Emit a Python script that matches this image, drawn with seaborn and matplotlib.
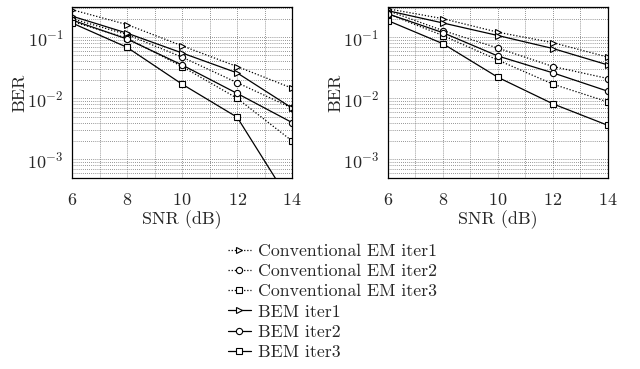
import numpy as np
import pandas as pd
import matplotlib
matplotlib.use("Agg")
import matplotlib.pyplot as plt
import seaborn as sns
from matplotlib.ticker import LogLocator, NullFormatter, MultipleLocator

snr = [6, 8, 10, 12, 14]
labels = ["Conventional EM iter1", "Conventional EM iter2", "Conventional EM iter3",
          "BEM iter1", "BEM iter2", "BEM iter3"]

# left panel
left_conv1 = [0.28, 0.16, 0.072, 0.033, 0.0146]
left_conv2 = [0.20, 0.11, 0.047, 0.018, 0.0069]
left_conv3 = [0.18, 0.096, 0.033, 0.010, 0.0020]
left_bem1 = [0.22, 0.116, 0.055, 0.026, 0.0069]
left_bem2 = [0.19, 0.093, 0.035, 0.012, 0.0040]
left_bem3 = [0.17, 0.068, 0.017, 0.0049, 0.00018]

# right panel
right_conv1 = [0.29, 0.20, 0.12, 0.081, 0.047]
right_conv2 = [0.27, 0.128, 0.066, 0.033, 0.021]
right_conv3 = [0.24, 0.106, 0.042, 0.017, 0.0087]
right_bem1 = [0.27, 0.17, 0.106, 0.065, 0.035]
right_bem2 = [0.24, 0.118, 0.049, 0.026, 0.013]
right_bem3 = [0.186, 0.078, 0.022, 0.0081, 0.0036]


def long_df(series):
    rows = []
    for lab, vals in zip(labels, series):
        for s, v in zip(snr, vals):
            rows.append({"snr": s, "ber": v, "method": lab})
    return pd.DataFrame(rows)


df_left = long_df([left_conv1, left_conv2, left_conv3, left_bem1, left_bem2, left_bem3])
df_right = long_df([right_conv1, right_conv2, right_conv3, right_bem1, right_bem2, right_bem3])

sns.set_style("white")
plt.rcParams["font.family"] = ["cmr10", "DejaVu Serif"]
plt.rcParams["mathtext.fontset"] = "cm"
plt.rcParams["axes.formatter.use_mathtext"] = True

markers = dict(zip(labels, [">", "o", "s", ">", "o", "s"]))
dashes = dict(zip(labels, [(1, 1.5), (1, 1.5), (1, 1.5), "", "", ""]))

fig = plt.figure(figsize=(6.4, 3.69), dpi=100)
ax1 = fig.add_axes([0.1125, 0.518, 0.344, 0.463])
ax2 = fig.add_axes([0.606, 0.518, 0.344, 0.463])

for ax, d in [(ax1, df_left), (ax2, df_right)]:
    sns.lineplot(data=d, x="snr", y="ber", style="method", markers=markers, dashes=dashes,
                 color="black", linewidth=0.9, markersize=4.5, markerfacecolor="white",
                 markeredgecolor="black", markeredgewidth=0.8, ax=ax)
    ax.set_yscale("log")
    ax.set_xlim(6, 14)
    ax.set_ylim(5e-4, 0.31)
    ax.xaxis.set_major_locator(MultipleLocator(2))
    ax.xaxis.set_minor_locator(MultipleLocator(1))
    ax.yaxis.set_major_locator(LogLocator(base=10, numticks=10))
    ax.yaxis.set_minor_locator(LogLocator(base=10, subs=np.arange(2, 10), numticks=20))
    ax.yaxis.set_minor_formatter(NullFormatter())
    ax.grid(True, which="both", axis="both", linestyle=(0, (1, 1.5)), color="0.45", linewidth=0.6)
    ax.tick_params(axis="both", which="both", direction="in", length=0, labelsize=13)
    ax.tick_params(axis="x", pad=10)
    ax.tick_params(axis="y", pad=6)
    for sp in ax.spines.values():
        sp.set_color("black")
        sp.set_linewidth(0.9)
    ax.set_xlabel("SNR (dB)", fontsize=13, labelpad=2)
    ax.set_ylabel("BER", fontsize=13, labelpad=0)
    ax.get_legend().remove()

handles, lbls = ax1.get_legend_handles_labels()
fig.legend(handles, lbls, loc="upper left", bbox_to_anchor=(0.356, 0.34), frameon=False,
           fontsize=12.8, handlelength=1.3, handletextpad=0.4, labelspacing=0.27, borderpad=0,
           borderaxespad=0)

fig.savefig("out.png", dpi=100)
